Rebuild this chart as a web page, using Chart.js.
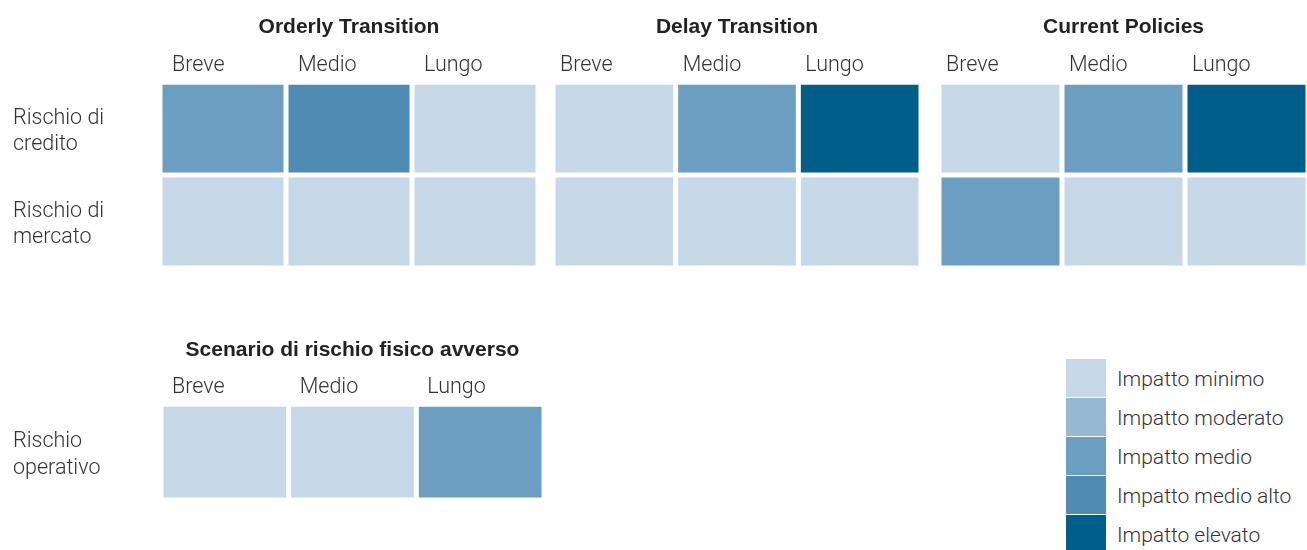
<!DOCTYPE html>
<html>
<head>
<meta charset="utf-8">
<script src="https://cdn.jsdelivr.net/npm/chart.js@4.4.0/dist/chart.umd.min.js"></script>
<style>
  html, body { margin: 0; padding: 0; background: #fff; }
  body { width: 1307px; height: 550px; position: relative; overflow: hidden; }
  .box { position: absolute; }
  #legend { position: absolute; left: 1066px; top: 359px; }
  .item { position: relative; height: 39px; }
  .swatch { position: absolute; left: 0; top: 0; width: 40px; height: 38px; }
  .txt { position: absolute; left: 51px; top: 0; line-height: 40px; font-family: Roboto, "Liberation Sans", sans-serif; font-weight: 300; font-size: 21px; color: #333; white-space: nowrap; }
</style>
</head>
<body>
<div class="box" style="left:0;top:0;width:542px;height:268px"><canvas id="orderly"></canvas></div>
<div class="box" style="left:549px;top:0;width:376px;height:268px"><canvas id="delay"></canvas></div>
<div class="box" style="left:935px;top:0;width:377px;height:268px"><canvas id="current"></canvas></div>
<div class="box" style="left:0;top:320px;width:548px;height:180px"><canvas id="physical"></canvas></div>
<div id="legend"></div>

<script>
// orizzonti temporali e righe
const terms = ['Breve', 'Medio', 'Lungo'];
const transitionRows = [['Rischio di', 'credito'], ['Rischio di', 'mercato']];
const physicalRows = [['Rischio', 'operativo']];

// livelli di impatto (0 = minimo ... 4 = elevato), una riga per rischio
const orderlyLevels = [[2, 3, 0], [0, 0, 0]];
const delayLevels = [[0, 2, 4], [0, 0, 0]];
const currentLevels = [[0, 2, 4], [2, 0, 0]];
const physicalLevels = [[0, 0, 2]];

const impactLabels = ['Impatto minimo', 'Impatto moderato', 'Impatto medio', 'Impatto medio alto', 'Impatto elevato'];
const impactColors = ['#c6d8e8', '#97b8d2', '#6b9ec0', '#4f8cb3', '#005e8a'];

const TITLE_FONT = '"Liberation Sans", Arial, sans-serif';
const LABEL_FONT = 'Roboto, "Liberation Sans", sans-serif';

function makeGrid (id, title, rows, levels, opts) {
    let datasets = terms.map(function (t, j) {
        return {
            label: t,
            data: rows.map(function () { return 1; }),
            backgroundColor: rows.map(function (r, i) { return impactColors[levels[i][j]]; }),
            borderColor: '#fff',
            borderWidth: 2.5,
            borderSkipped: false,
            inflateAmount: 0,
            barPercentage: 1,
            categoryPercentage: 1
        };
    });

    return new Chart(document.getElementById(id), {
        type: 'bar',
        data: { labels: rows, datasets: datasets },
        options: {
            indexAxis: 'y',
            responsive: true,
            maintainAspectRatio: false,
            animation: false,
            layout: { padding: { left: opts.rowLabels ? 13 : 0, top: 0, right: 0, bottom: 0 } },
            plugins: {
                legend: { display: false },
                tooltip: { enabled: false },
                title: {
                    display: true,
                    text: title,
                    fullSize: false,
                    color: '#222',
                    font: { family: TITLE_FONT, size: 21, weight: 'bold', lineHeight: 1.2 },
                    padding: opts.titlePad
                }
            },
            scales: {
                x: {
                    type: 'linear',
                    position: 'top',
                    stacked: true,
                    min: 0,
                    max: 3,
                    grid: { display: false, drawTicks: false },
                    border: { display: false },
                    afterFit: function (s) { s.height = 29; },
                    ticks: {
                        stepSize: 1,
                        autoSkip: false,
                        maxRotation: 0,
                        align: 'start',
                        labelOffset: opts.labelOffset,
                        padding: 4,
                        color: '#333',
                        font: { family: LABEL_FONT, size: 21.5, weight: 300, lineHeight: 1.2 },
                        callback: function (v) { return terms[v] || ''; }
                    }
                },
                y: {
                    type: 'category',
                    stacked: true,
                    display: opts.rowLabels,
                    grid: { display: false, drawTicks: false },
                    border: { display: false },
                    afterFit: function (s) {
                        s.width = opts.rowWidth;
                        s.paddingTop = 0;
                        s.paddingBottom = 0;
                    },
                    ticks: {
                        crossAlign: 'far',
                        padding: 0,
                        labelOffset: 3,
                        color: '#333',
                        font: { family: LABEL_FONT, size: 21.5, weight: 300, lineHeight: 1.22 }
                    }
                }
            }
        }
    });
}

makeGrid('orderly', 'Orderly Transition', transitionRows, orderlyLevels,
    { rowLabels: true, rowWidth: 147, labelOffset: 12, titlePad: { top: 15, bottom: 13 } });
makeGrid('delay', 'Delay Transition', transitionRows, delayLevels,
    { rowLabels: false, rowWidth: 0, labelOffset: 7, titlePad: { top: 15, bottom: 13 } });
makeGrid('current', 'Current Policies', transitionRows, currentLevels,
    { rowLabels: false, rowWidth: 0, labelOffset: 7, titlePad: { top: 15, bottom: 13 } });
makeGrid('physical', 'Scenario di rischio fisico avverso', physicalRows, physicalLevels,
    { rowLabels: true, rowWidth: 148, labelOffset: 11, titlePad: { top: 18, bottom: 12 } });

// legenda
let legendSpot = document.getElementById('legend');
for (let k = 0; k < impactLabels.length; k++) {
    let item = document.createElement('div');
    item.className = 'item';
    item.innerHTML = '<div class="swatch" style="background:' + impactColors[k] + '"></div><div class="txt">' + impactLabels[k] + '</div>';
    legendSpot.appendChild(item);
}
</script>
</body>
</html>
